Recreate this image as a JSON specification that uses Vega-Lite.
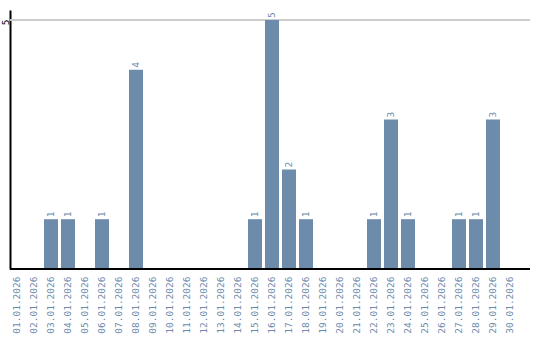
{
  "$schema": "https://vega.github.io/schema/vega-lite/v6.json",
  "width": 520,
  "height": 259,
  "autosize": {"type": "none"},
  "padding": {"left": 10, "top": 10, "right": 10, "bottom": 71},
  "config": {"view": {"stroke": null}},
  "data": {"values": [
    {"date": "01.01.2026", "count": 0},
    {"date": "02.01.2026", "count": 0},
    {"date": "03.01.2026", "count": 1},
    {"date": "04.01.2026", "count": 1},
    {"date": "05.01.2026", "count": 0},
    {"date": "06.01.2026", "count": 1},
    {"date": "07.01.2026", "count": 0},
    {"date": "08.01.2026", "count": 4},
    {"date": "09.01.2026", "count": 0},
    {"date": "10.01.2026", "count": 0},
    {"date": "11.01.2026", "count": 0},
    {"date": "12.01.2026", "count": 0},
    {"date": "13.01.2026", "count": 0},
    {"date": "14.01.2026", "count": 0},
    {"date": "15.01.2026", "count": 1},
    {"date": "16.01.2026", "count": 5},
    {"date": "17.01.2026", "count": 2},
    {"date": "18.01.2026", "count": 1},
    {"date": "19.01.2026", "count": 0},
    {"date": "20.01.2026", "count": 0},
    {"date": "21.01.2026", "count": 0},
    {"date": "22.01.2026", "count": 1},
    {"date": "23.01.2026", "count": 3},
    {"date": "24.01.2026", "count": 1},
    {"date": "25.01.2026", "count": 0},
    {"date": "26.01.2026", "count": 0},
    {"date": "27.01.2026", "count": 1},
    {"date": "28.01.2026", "count": 1},
    {"date": "29.01.2026", "count": 3},
    {"date": "30.01.2026", "count": 0}
  ]},
  "encoding": {
    "x": {
      "field": "date", "type": "ordinal", "sort": null,
      "scale": {"range": [0, 507], "paddingInner": 0.176, "paddingOuter": 0},
      "axis": {
        "title": null, "labelAngle": -90, "labelAlign": "right", "labelBaseline": "middle",
        "labelFont": "DejaVu Sans Mono", "labelFontSize": 9.5, "labelColor": "#6b8aab",
        "labelPadding": 7, "ticks": false, "domain": false, "grid": false
      }
    },
    "y": {
      "field": "count", "type": "quantitative",
      "scale": {"domain": [0, 5.2], "nice": false},
      "axis": {
        "title": null, "values": [5], "labelAngle": -90, "labelAlign": "center", "labelBaseline": "alphabetic",
        "labelFont": "DejaVu Sans Mono", "labelFontSize": 9.5, "labelColor": "#000000",
        "labelPadding": 2, "labelOffset": 2, "ticks": false, "domainColor": "#000000", "domainWidth": 2,
        "grid": false
      }
    }
  },
  "layer": [
    {
      "mark": {"type": "rule", "color": "#cccccc", "strokeWidth": 1},
      "encoding": {"x": null, "y": {"datum": 5}}
    },
    {"mark": {"type": "bar", "color": "#6d8cab"}},
    {
      "transform": [{"filter": "datum.count > 0"}],
      "mark": {"type": "text", "angle": 270, "align": "left", "baseline": "middle", "dx": 2,
        "font": "DejaVu Sans Mono", "fontSize": 9.5, "color": "#6b8aab"},
      "encoding": {"text": {"field": "count", "type": "quantitative"}}
    },
    {
      "mark": {"type": "rule", "color": "#000000", "strokeWidth": 2},
      "encoding": {"x": null, "y": {"datum": 0}}
    }
  ]
}
